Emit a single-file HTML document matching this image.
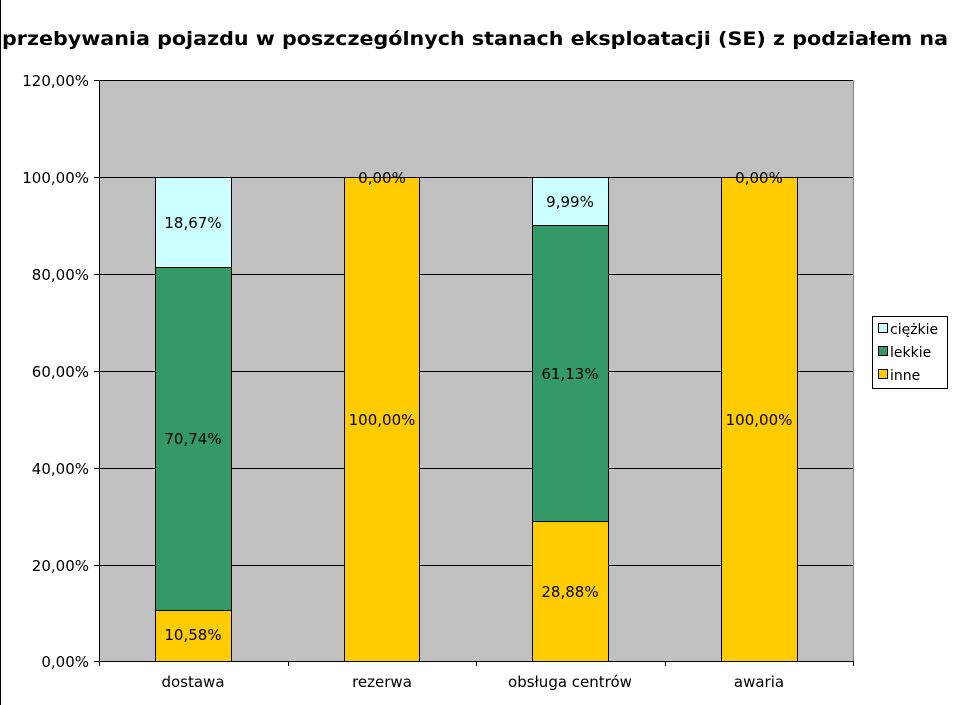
<!DOCTYPE html>
<html><head><meta charset="utf-8"><style>
html,body{margin:0;padding:0;background:#fff}
svg{display:block}
text{font-family:"DejaVu Sans","Liberation Sans",sans-serif}
</style></head><body>
<svg width="956" height="705" viewBox="0 0 956 705" xmlns="http://www.w3.org/2000/svg">
<rect x="0" y="0" width="956" height="705" fill="#fff"/>
<line x1="0.5" y1="0" x2="0.5" y2="705" stroke="#000"/>
<text x="2" y="45" font-size="19" font-weight="bold" fill="#000" textLength="946" lengthAdjust="spacingAndGlyphs">przebywania pojazdu w poszczególnych stanach eksploatacji (SE) z podziałem na</text>
<rect x="99" y="80" width="754" height="581" fill="#c0c0c0"/>
<g stroke="#000" stroke-width="1">
<line x1="99" y1="80.5" x2="853" y2="80.5"/>
<line x1="99" y1="177.5" x2="853" y2="177.5"/>
<line x1="99" y1="274.5" x2="853" y2="274.5"/>
<line x1="99" y1="371.5" x2="853" y2="371.5"/>
<line x1="99" y1="468.5" x2="853" y2="468.5"/>
<line x1="99" y1="565.5" x2="853" y2="565.5"/>
<line x1="99" y1="661.5" x2="853" y2="661.5"/>
<line x1="99.5" y1="80" x2="99.5" y2="666"/>
<line x1="94" y1="80.5" x2="99" y2="80.5"/>
<line x1="94" y1="177.5" x2="99" y2="177.5"/>
<line x1="94" y1="274.5" x2="99" y2="274.5"/>
<line x1="94" y1="371.5" x2="99" y2="371.5"/>
<line x1="94" y1="468.5" x2="99" y2="468.5"/>
<line x1="94" y1="565.5" x2="99" y2="565.5"/>
<line x1="94" y1="661.5" x2="99" y2="661.5"/>
<line x1="288.5" y1="661" x2="288.5" y2="666"/>
<line x1="476.5" y1="661" x2="476.5" y2="666"/>
<line x1="665.5" y1="661" x2="665.5" y2="666"/>
<line x1="853.5" y1="661" x2="853.5" y2="666"/>
</g>
<line x1="853.5" y1="80" x2="853.5" y2="661" stroke="#808080"/>
<g font-size="15" fill="#000" text-anchor="end">
<text x="89" y="86">120,00%</text>
<text x="89" y="183">100,00%</text>
<text x="89" y="280">80,00%</text>
<text x="89" y="377">60,00%</text>
<text x="89" y="474">40,00%</text>
<text x="89" y="571">20,00%</text>
<text x="89" y="667">0,00%</text>
</g>
<g stroke="#000" stroke-width="1">
<rect x="155.5" y="610.5" width="76" height="51" fill="#ffcc00"/>
<rect x="155.5" y="267.5" width="76" height="343" fill="#339966"/>
<rect x="155.5" y="177.5" width="76" height="90" fill="#ccffff"/>
<rect x="344.5" y="177.5" width="75" height="484" fill="#ffcc00"/>
<rect x="532.5" y="521.5" width="76" height="140" fill="#ffcc00"/>
<rect x="532.5" y="225.5" width="76" height="296" fill="#339966"/>
<rect x="532.5" y="177.5" width="76" height="48" fill="#ccffff"/>
<rect x="721.5" y="177.5" width="76" height="484" fill="#ffcc00"/>
</g>
<g font-size="15" fill="#000" text-anchor="middle">
<text x="193" y="640">10,58%</text>
<text x="193" y="444">70,74%</text>
<text x="193" y="228">18,67%</text>
<text x="382" y="183">0,00%</text>
<text x="382" y="425">100,00%</text>
<text x="570" y="597">28,88%</text>
<text x="570" y="379">61,13%</text>
<text x="570" y="207">9,99%</text>
<text x="759" y="183">0,00%</text>
<text x="759" y="425">100,00%</text>
<text x="193" y="687">dostawa</text>
<text x="382" y="687">rezerwa</text>
<text x="570" y="687">obsługa centrów</text>
<text x="759" y="687">awaria</text>
</g>
<rect x="872.5" y="316.5" width="75" height="72" fill="#fff" stroke="#000"/>
<rect x="878.5" y="323.5" width="9" height="9" fill="#ccffff" stroke="#000"/>
<rect x="878.5" y="346.5" width="9" height="9" fill="#339966" stroke="#000"/>
<rect x="878.5" y="369.5" width="9" height="9" fill="#ffcc00" stroke="#000"/>
<g font-size="14" fill="#000">
<text x="890" y="334">ciężkie</text>
<text x="890" y="357">lekkie</text>
<text x="890" y="380">inne</text>
</g>
</svg>
</body></html>
